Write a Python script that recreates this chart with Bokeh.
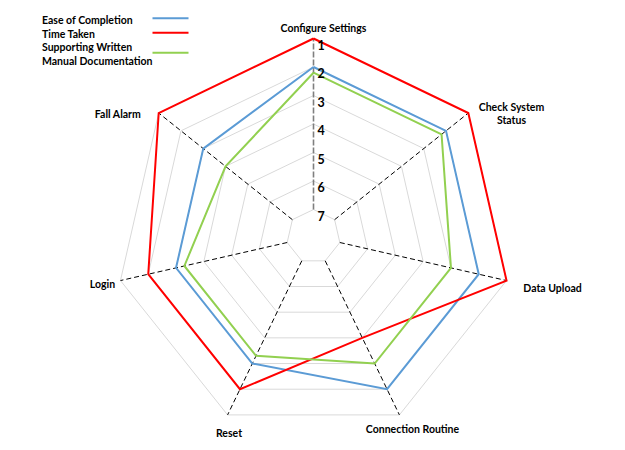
import numpy as np
from bokeh.plotting import figure
from bokeh.models import Range1d
from bokeh.core.properties import value
from bokeh.embed import file_html
from bokeh.resources import INLINE

# ---------------- data ----------------
categories = ["Configure Settings", "Check System Status", "Data Upload",
              "Connection Routine", "Reset", "Login", "Fall Alarm"]
ease_of_completion = [2, 2, 2, 2, 3, 3, 3]
time_taken = [1, 1, 1, 4, 2, 2, 1]
manual_documentation = [2.2, 2.2, 3, 3, 3.3, 3.3, 4]
tick_values = [1, 2, 3, 4, 5, 6, 7]
tick_labels = ["1", "2", "3", "4", "5", "6", "7"]
series_names = ["Ease of Completion", "Time Taken",
                "Supporting Written\nManual Documentation"]

# ---------------- styling / layout ----------------
COLORS = ["#5B9BD5", "#FF0000", "#92D050"]
FONT = value("Lato")
R_OUT, R_IN = 198.0, 27.0
N = len(categories)
angles = np.pi / 2 - 2 * np.pi * np.arange(N) / N


def rad(v):
    v = np.asarray(v, dtype=float)
    return R_OUT - (v - 1) * (R_OUT - R_IN) / (max(tick_values) - min(tick_values))


def polar(vals):
    r = rad(vals)
    xs = list(r * np.cos(angles))
    ys = list(r * np.sin(angles))
    return xs + xs[:1], ys + ys[:1]


p = figure(width=625, height=450, output_backend="svg", toolbar_location=None,
           x_range=Range1d(-313, 312), y_range=Range1d(-214, 236),
           min_border=0, outline_line_color=None)
p.axis.visible = False
p.grid.visible = False

# ring gridlines
for t in tick_values:
    xs, ys = polar([t] * N)
    p.line(xs, ys, line_color="#d9d9d9", line_width=1)

# spokes
for k, a in enumerate(angles):
    r0, r1 = rad(max(tick_values)), rad(min(tick_values))
    xs = [float(r0 * np.cos(a)), float(r1 * np.cos(a))]
    ys = [float(r0 * np.sin(a)), float(r1 * np.sin(a))]
    if k == 0:
        p.line(xs, ys, line_color="#7f7f7f", line_width=1.6, line_dash="6 2")
    else:
        p.line(xs, ys, line_color="#000000", line_width=1, line_dash="5 3")

# series
for vals, col in zip([ease_of_completion, time_taken, manual_documentation], COLORS):
    xs, ys = polar(vals)
    p.line(xs, ys, line_color=col, line_width=2, line_join="miter")

# tick labels on the first spoke
tr = rad(tick_values)
p.text(x=[4] * len(tick_values), y=list(tr - 6), text=tick_labels,
       text_font=FONT, text_font_style="bold", text_font_size="12.5px",
       text_align="left", text_baseline="middle", text_color="#000000")

# category labels (anchor offsets from the centre)
label_pos = [(10, 209), (198, 123), (239, -51), (99, -192),
             (-84.5, -196), (-211, -47), (-195.5, 123)]
for name, (lx, ly) in zip(categories, label_pos):
    lines = ["Check System", "Status"] if name == "Check System Status" else [name]
    n = len(lines)
    for i, ln in enumerate(lines):
        yy = ly + (n - 1) * 6.8 - i * 13.6
        p.text(x=[lx], y=[yy], text=[ln], text_font=FONT, text_font_style="bold",
               text_font_size="10.5px", text_align="center", text_baseline="middle",
               text_color="#000000")

# legend (text left, line sample right)
legend_text_y = [[217], [203], [190, 176]]
legend_line_y = [218.3, 203.7, 183.7]
for name, col, tys, lyy in zip(series_names, COLORS, legend_text_y, legend_line_y):
    for ln, ty in zip(name.split("\n"), tys):
        p.text(x=[-271.5], y=[ty], text=[ln], text_font=FONT, text_font_style="bold",
               text_font_size="10.5px", text_align="left", text_baseline="middle",
               text_color="#000000")
    p.line([-161, -125], [lyy, lyy], line_color=col, line_width=2)

open("out.html", "w").write(file_html(p, INLINE))
